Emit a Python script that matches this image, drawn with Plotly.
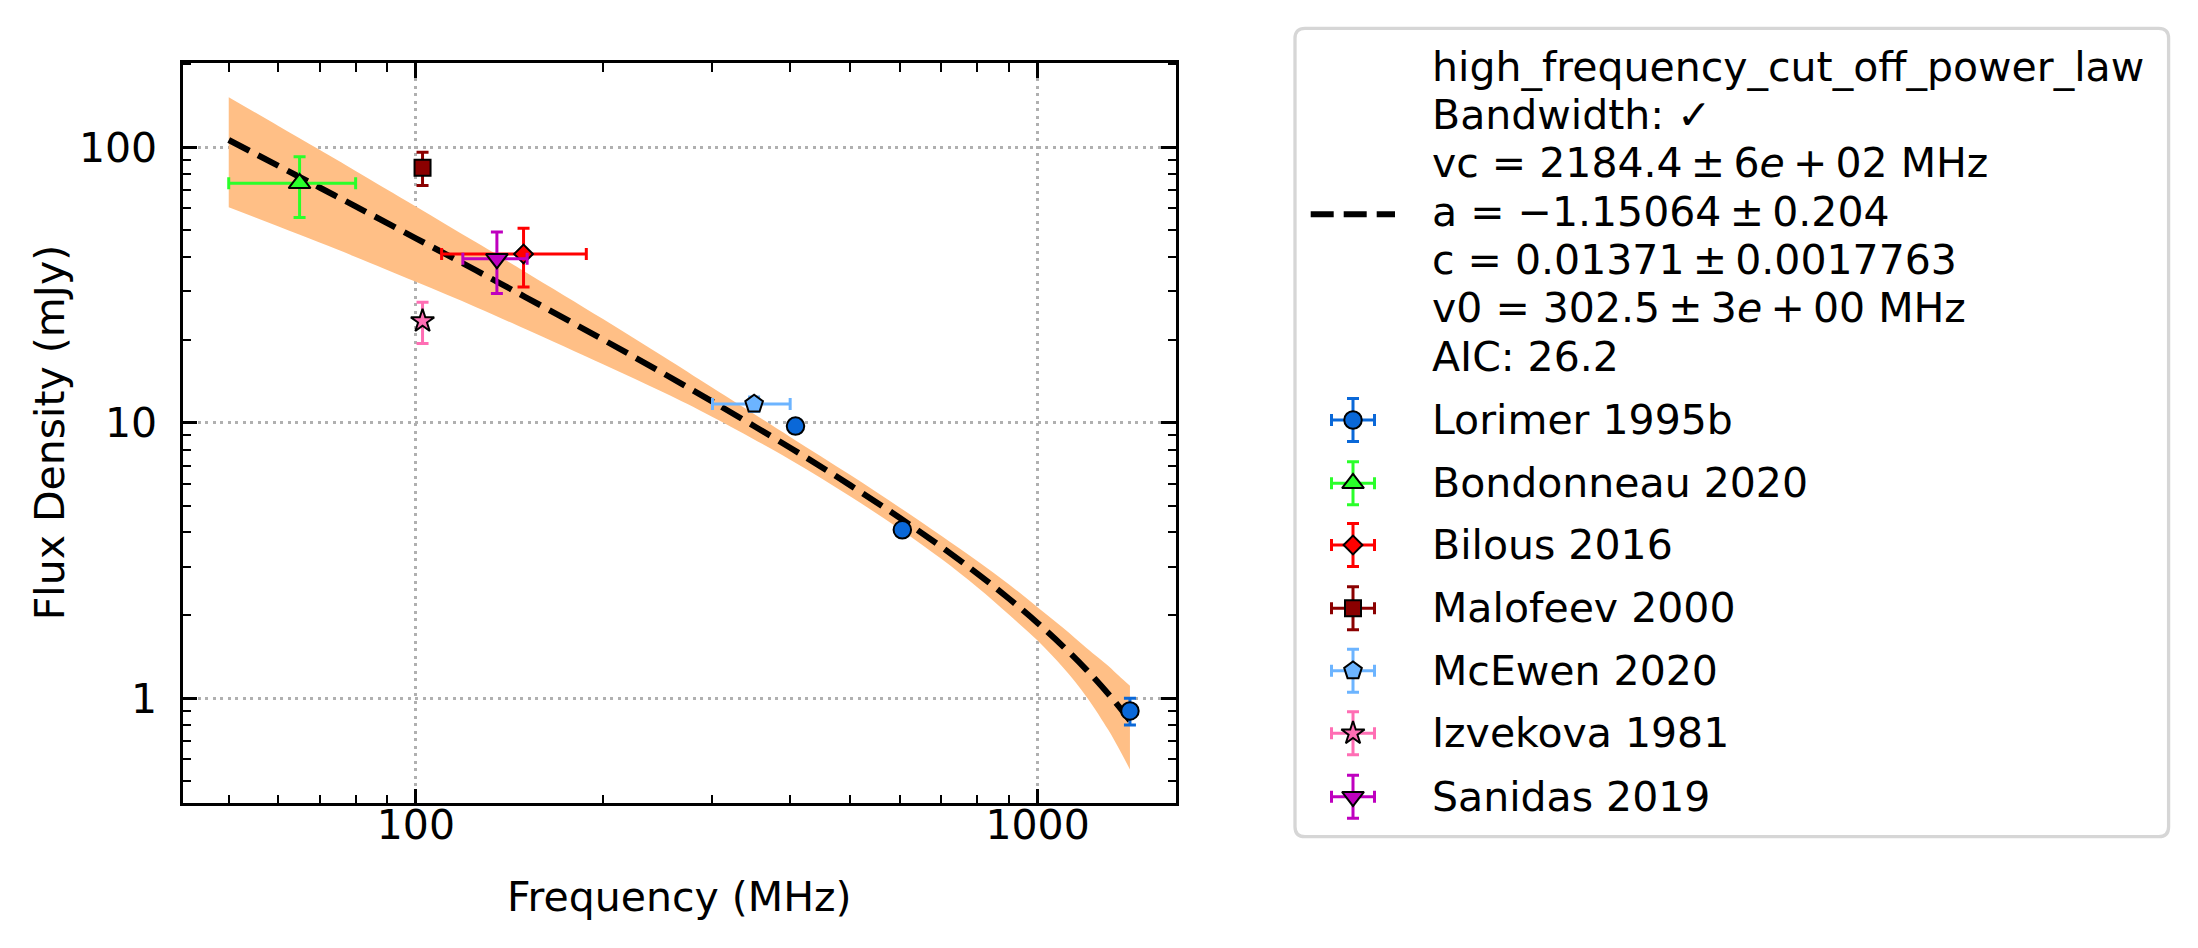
import plotly.graph_objects as go

W, H = 2198, 948
FONT = "DejaVu Sans"
FS = 41

# ---------------- data ----------------
lorimer_f = [408, 606, 1408]
lorimer_s = [9.73, 4.09, 0.90]
lorimer_se = [0.5, 0.2, 0.10]

bond_f = [65]
bond_fe = [15]
bond_s = [74.0]
bond_se = [18.4]

bilous_f = [149]
bilous_fe = [39]
bilous_s = [41.0]
bilous_se = [9.9]

malo_f = [102.5]
malo_s = [84.3]
malo_se = [11.6]

mcewen_f = [350]
mcewen_fe = [50]
mcewen_s = [11.7]
mcewen_se = [0.7]

izv_f = [102.5]
izv_s = [23.4]
izv_se = [4.0]

san_f = [135]
san_fe = [16]
san_s = [39.4]
san_se = [9.9]

fit_f = [50, 60, 70, 80, 100, 125, 150, 200, 250, 300, 400, 500, 600, 700, 800,
         900, 1000, 1100, 1200, 1300, 1350, 1408]
fit_s = [106.3, 85.77, 71.50, 61.03, 46.76, 35.73, 28.62, 20.05, 15.12, 11.94, 8.12,
         5.93, 4.522, 3.548, 2.838, 2.299, 1.878, 1.541, 1.266, 1.037, 0.937, 0.830]
band_hi = [152.0, 119.8, 97.9, 82.1, 61.0, 45.2, 35.3, 23.8, 17.4, 13.4, 8.89,
           6.46, 4.93, 3.89, 3.15, 2.59, 2.14, 1.80, 1.52, 1.31, 1.21, 1.11]
band_lo = [60.6, 51.7, 45.1, 40.0, 32.5, 26.3, 21.9, 16.3, 12.9, 10.5, 7.35,
           5.40, 4.12, 3.21, 2.53, 2.01, 1.62, 1.29, 1.01, 0.767, 0.660, 0.552]

x_ticks = [100, 1000]
x_ticktext = ["100", "1000"]
y_ticks = [1, 10, 100]
y_ticktext = ["1", "10", "100"]
x_minor = [50, 60, 70, 80, 90, 200, 300, 400, 500, 600, 700, 800, 900]
y_minor = [0.5, 0.6, 0.7, 0.8, 0.9, 2, 3, 4, 5, 6, 7, 8, 9,
           20, 30, 40, 50, 60, 70, 80, 90, 200]

TS = "\u2009"  # thin space (mathtext binary-operator spacing)
fit_label_lines = [
    "high_frequency_cut_off_power_law",
    "Bandwidth: \u2713",
    f"vc = 2184.4{TS}\u00b1{TS}6<i>e</i>{TS}+{TS}02 MHz",
    f"a = \u22121.15064{TS}\u00b1{TS}0.204",
    f"c = 0.01371{TS}\u00b1{TS}0.0017763",
    f"v0 = 302.5{TS}\u00b1{TS}3<i>e</i>{TS}+{TS}00 MHz",
    "AIC: 26.2",
]

series = [
    # name, f, fe, s, se, symbol, size, color
    ("Lorimer 1995b", lorimer_f, None, lorimer_s, lorimer_se, "circle", 17.5, "#0a68d8"),
    ("Bondonneau 2020", bond_f, bond_fe, bond_s, bond_se, "triangle-up", 19, "#2aff2a"),
    ("Bilous 2016", bilous_f, bilous_fe, bilous_s, bilous_se, "diamond", 14.5, "#ff0000"),
    ("Malofeev 2000", malo_f, None, malo_s, malo_se, "square", 16, "#8b0000"),
    ("McEwen 2020", mcewen_f, mcewen_fe, mcewen_s, mcewen_se, "pentagon", 18.5, "#6cb4ff"),
    ("Izvekova 1981", izv_f, None, izv_s, izv_se, "star", 17.5, "#ff6eb4"),
    ("Sanidas 2019", san_f, san_fe, san_s, san_se, "triangle-down", 19, "#bf00bf"),
]

# ---------------- geometry (pixels) ----------------
PL, PR, PT, PB = 182.5, 1176.0, 63.3, 803.3
LEG_L, LEG_R, LEG_T, LEG_B = 1295.0, 2168.6, 28.3, 836.7
AX2_X = [1280, 2190]
AX2_Y = [10, 860]

fig = go.Figure()

# confidence band
fig.add_trace(go.Scatter(x=fit_f, y=band_hi, mode="lines", line=dict(width=0, shape="spline"),
                         hoverinfo="skip", showlegend=False))
fig.add_trace(go.Scatter(x=fit_f, y=band_lo, mode="lines", line=dict(width=0, shape="spline"),
                         fill="tonexty", fillcolor="#ffbf86", hoverinfo="skip", showlegend=False))
# fit line
fig.add_trace(go.Scatter(x=fit_f, y=fit_s, mode="lines",
                         line=dict(color="black", width=6, dash="23px,10px", shape="spline"),
                         showlegend=False))

for name, f, fe, s, se, sym, size, col in series:
    ex = dict(type="data", array=fe, color=col, thickness=3, width=6, visible=True) if fe else dict(visible=False)
    fig.add_trace(go.Scatter(
        x=f, y=s, mode="markers", name=name, showlegend=False,
        marker=dict(symbol=sym, size=size, color=col, line=dict(color="black", width=2)),
        error_x=ex,
        error_y=dict(type="data", array=se, color=col, thickness=3, width=6),
    ))

# ---------------- hand-built legend on an auxiliary pixel axis ----------------
leg_fit_y = 214.3
fit_line_y = [66.7, 115.0, 163.3, 211.7, 260.0, 308.3, 356.7]
entry_y = [420.0, 483.3, 545.0, 608.3, 670.7, 733.3, 796.7]
HX0, HX1 = 1310.7, 1395.0
HMX = 1353.0
TX = 1430.0

fig.add_trace(go.Scatter(x=[HX0, HX1], y=[leg_fit_y, leg_fit_y], mode="lines",
                         line=dict(color="black", width=6, dash="23px,10px"),
                         xaxis="x2", yaxis="y2", showlegend=False, hoverinfo="skip"))
for (name, f, fe, s, se, sym, size, col), yy in zip(series, entry_y):
    fig.add_trace(go.Scatter(
        x=[HMX], y=[yy], mode="markers", xaxis="x2", yaxis="y2", showlegend=False,
        hoverinfo="skip",
        marker=dict(symbol=sym, size=size, color=col, line=dict(color="black", width=2)),
        error_x=dict(type="data", array=[21.5], color=col, thickness=3, width=6),
        error_y=dict(type="data", array=[21.5], color=col, thickness=3, width=6),
    ))

annotations = []
for txt, yy in zip(fit_label_lines, fit_line_y):
    annotations.append(dict(text=txt, x=TX, y=yy, xref="x2", yref="y2", xanchor="left",
                            yanchor="middle", showarrow=False,
                            font=dict(family=FONT, size=FS, color="black")))
for (name, *_), yy in zip(series, entry_y):
    annotations.append(dict(text=name, x=TX, y=yy, xref="x2", yref="y2", xanchor="left",
                            yanchor="middle", showarrow=False,
                            font=dict(family=FONT, size=FS, color="black")))

# axis titles
annotations.append(dict(text="Frequency (MHz)", x=(PL + PR) / 2 / W, y=1 - 896.7 / H,
                        xref="paper", yref="paper", xanchor="center", yanchor="middle",
                        showarrow=False, font=dict(family=FONT, size=FS, color="black")))
annotations.append(dict(text="Flux Density (mJy)", x=50 / W, y=1 - (PT + PB) / 2 / H,
                        xref="paper", yref="paper", xanchor="center", yanchor="middle",
                        textangle=-90, showarrow=False,
                        font=dict(family=FONT, size=FS, color="black")))

r = 10
path = (f"M {LEG_L + r},{LEG_T} L {LEG_R - r},{LEG_T} Q {LEG_R},{LEG_T} {LEG_R},{LEG_T + r} "
        f"L {LEG_R},{LEG_B - r} Q {LEG_R},{LEG_B} {LEG_R - r},{LEG_B} "
        f"L {LEG_L + r},{LEG_B} Q {LEG_L},{LEG_B} {LEG_L},{LEG_B - r} "
        f"L {LEG_L},{LEG_T + r} Q {LEG_L},{LEG_T} {LEG_L + r},{LEG_T} Z")
shapes = [dict(type="path", path=path, xref="x2", yref="y2",
               line=dict(color="#d6d6d6", width=3.3), fillcolor="rgba(255,255,255,0)",
               layer="below")]

axis_common = dict(
    type="log", showline=True, linecolor="black", linewidth=3.3, mirror="ticks",
    ticks="inside", ticklen=14.6, tickwidth=3, tickcolor="black",
    showgrid=True, gridcolor="#b0b0b0", gridwidth=2.5, griddash="3px,4.5px",
    zeroline=False, tickmode="array",
    tickfont=dict(family=FONT, size=FS, color="black"),
    automargin=False,
)

fig.update_layout(
    width=W, height=H, margin=dict(l=0, r=0, t=0, b=0, pad=0),
    paper_bgcolor="white", plot_bgcolor="white", template="none",
    font=dict(family=FONT, size=FS, color="black"),
    showlegend=False,
    xaxis=dict(**axis_common, domain=[PL / W, PR / W], anchor="y",
               range=[1.6246, 3.2227], tickvals=x_ticks, ticktext=x_ticktext,
               ticklabelstandoff=-17,
               minor=dict(tickvals=x_minor, ticks="inside", ticklen=8.3, tickwidth=2.3,
                          tickcolor="black", showgrid=False)),
    yaxis=dict(**axis_common, domain=[1 - PB / H, 1 - PT / H], anchor="x",
               range=[-0.381, 2.305], tickvals=y_ticks, ticktext=y_ticktext,
               ticklabelstandoff=14,
               minor=dict(tickvals=y_minor, ticks="inside", ticklen=8.3, tickwidth=2.3,
                          tickcolor="black", showgrid=False)),
    xaxis2=dict(domain=[AX2_X[0] / W, AX2_X[1] / W], anchor="y2", range=AX2_X,
                visible=False, showgrid=False, zeroline=False, fixedrange=True),
    yaxis2=dict(domain=[1 - AX2_Y[1] / H, 1 - AX2_Y[0] / H], anchor="x2",
                range=[AX2_Y[1], AX2_Y[0]], visible=False, showgrid=False,
                zeroline=False, fixedrange=True),
    annotations=annotations,
    shapes=shapes,
)

fig.write_html("out.html")
